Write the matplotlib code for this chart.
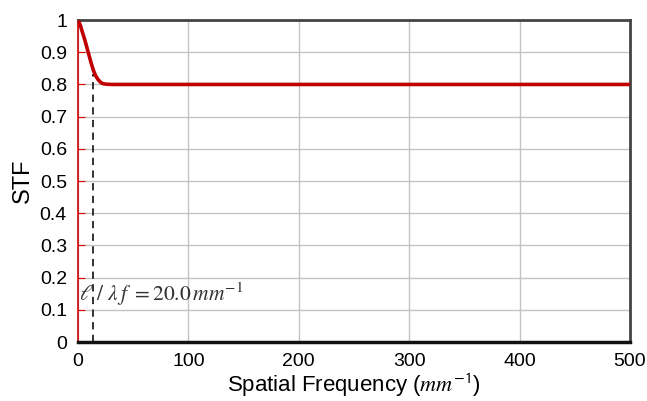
import matplotlib.pyplot as plt
import numpy as np

plt.rcParams['font.family'] = ['Liberation Sans', 'DejaVu Sans']
plt.rcParams['mathtext.fontset'] = 'stix'

# STF curve samples
freq = [0, 2, 4, 6, 8, 10, 12, 14, 16, 18, 20, 22, 25, 30, 500]
stf = [1.0, 0.985, 0.962, 0.94, 0.915, 0.89, 0.865, 0.843, 0.827, 0.816, 0.808, 0.803, 0.801, 0.8, 0.8]
cutoff = 14
x_ticks = [0, 100, 200, 300, 400, 500]
y_ticks = [0, 0.1, 0.2, 0.3, 0.4, 0.5, 0.6, 0.7, 0.8, 0.9, 1]
y_labels = ['0', '0.1', '0.2', '0.3', '0.4', '0.5', '0.6', '0.7', '0.8', '0.9', '1']

fig = plt.figure(figsize=(6.47, 4.01), dpi=100)
ax = fig.add_axes([0.1206, 0.147, 0.853, 0.803])

ax.grid(True, color='#c4c4c4', lw=1)
ax.set_axisbelow(True)

ax.plot(freq, stf, color='#c00000', lw=2.6, solid_capstyle='butt', zorder=3)
ax.plot([cutoff, cutoff], [0, np.interp(cutoff, freq, stf) - 0.01],
        color='#222222', ls=(0, (4, 3)), lw=1.3, zorder=2)

ax.text(1, 0.15, r'$\ell\ /\ \lambda\, f\ = 20.0\,mm^{-1}$', fontsize=15.5,
        color='#333333', va='center', ha='left')

ax.set_xlim(0, 500)
ax.set_ylim(0, 1)
ax.set_xticks(x_ticks)
ax.set_yticks(y_ticks)
ax.set_yticklabels(y_labels)
ax.tick_params(axis='x', length=0, labelsize=14, pad=8)
ax.tick_params(axis='y', direction='in', length=5, color='#e00000', labelsize=14, pad=8)

for side in ['top', 'right']:
    ax.spines[side].set_color('#444444')
    ax.spines[side].set_linewidth(2)
ax.spines['bottom'].set_color('#111111')
ax.spines['bottom'].set_linewidth(2.5)
ax.spines['left'].set_color('#d00000')
ax.spines['left'].set_linewidth(1.2)

ax.set_xlabel(r'Spatial Frequency ($mm^{\mathsf{-1}}$)', fontsize=16, labelpad=1)
ax.set_ylabel('STF', fontsize=17, labelpad=4)

plt.savefig('out.png', dpi=100)
plt.close(fig)
